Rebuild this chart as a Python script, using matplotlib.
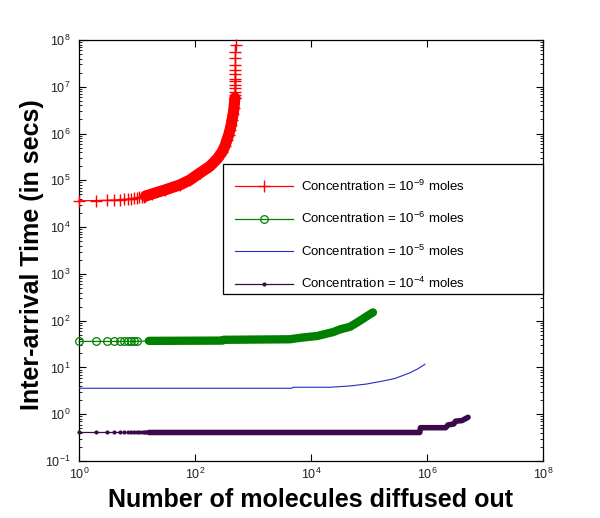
import matplotlib
matplotlib.use('Agg')
import matplotlib.pyplot as plt
from matplotlib.patches import Rectangle

plt.rcParams['font.family'] = ['Liberation Sans', 'DejaVu Sans']
plt.rcParams['mathtext.fontset'] = 'custom'
plt.rcParams['mathtext.rm'] = 'Liberation Sans'
plt.rcParams['mathtext.it'] = 'Liberation Sans:italic'
plt.rcParams['mathtext.bf'] = 'Liberation Sans:bold'

# ---------------- data ----------------
labels = ['Concentration = $10^{-9}$ moles',
          'Concentration = $10^{-6}$ moles',
          'Concentration = $10^{-5}$ moles',
          'Concentration = $10^{-4}$ moles']

# 1e-9 moles : sparse early points, dense band, sparse final points
red_x_early = [1, 2, 3, 4, 5, 6, 7, 8, 9, 10, 11, 12, 13, 14]
red_y_early = [3.65e4, 3.7e4, 3.75e4, 3.8e4, 3.85e4, 3.9e4, 3.95e4, 4.0e4,
               4.1e4, 4.2e4, 4.3e4, 4.4e4, 4.5e4, 4.6e4]
red_x_band = [14, 18, 30, 55, 82, 122, 181, 240, 292, 330, 356, 380, 401,
              420, 435, 455, 470, 488]
red_y_band = [4.6e4, 5.1e4, 6.2e4, 8.0e4, 1.02e5, 1.44e5, 2.0e5, 2.86e5,
              4.0e5, 5.5e5, 7.3e5, 9.3e5, 1.19e6, 1.5e6, 1.95e6, 2.6e6,
              3.5e6, 5.8e6]
red_x_late = [488, 489, 490, 491, 492, 493, 494, 495, 496, 497, 498, 499, 500]
red_y_late = [5.8e6, 6.7e6, 7.9e6, 9.3e6, 1.09e7, 1.3e7, 1.5e7, 1.85e7,
              2.3e7, 2.9e7, 4.1e7, 5.6e7, 7.8e7]

# 1e-6 moles
green_x_early = [1, 2, 3, 4, 5, 6, 7, 8, 9, 10]
green_y_early = [36, 36, 36, 36, 36, 36, 36, 36, 36, 36]
green_x_band = [16, 300, 310, 4300, 6.5e3, 1.27e4, 2.4e4, 3.16e4, 4.7e4,
                6.2e4, 7.9e4, 9.6e4, 1.17e5]
green_y_band = [37, 37.5, 39, 40, 43, 47, 57, 65, 74, 91, 110, 129, 150]

# 1e-5 moles
blue_x = [1, 4.7e3, 4.9e3, 2.13e4, 4.7e4, 9.2e4, 1.74e5, 2.8e5, 5.1e5,
          7.0e5, 9.2e5]
blue_y = [3.59, 3.59, 3.77, 3.77, 4.02, 4.43, 5.13, 5.8, 7.7, 9.4, 11.7]

# 1e-4 moles
purple_x_early = [1, 2, 3, 4, 5, 6, 7, 8, 9, 10, 11, 12, 13, 14, 15, 16]
purple_y_early = [0.407] * 16
purple_x_band = [16, 7.5e5, 7.7e5, 2.1e6, 2.3e6, 2.9e6, 3.1e6, 4.0e6, 5.1e6]
purple_y_band = [0.407, 0.407, 0.515, 0.515, 0.59, 0.62, 0.71, 0.73, 0.86]

xtick_vals = [1, 1e2, 1e4, 1e6, 1e8]
xtick_labels = ['$10^{0}$', '$10^{2}$', '$10^{4}$', '$10^{6}$', '$10^{8}$']
ytick_vals = [1e-1, 1, 1e1, 1e2, 1e3, 1e4, 1e5, 1e6, 1e7, 1e8]
ytick_labels = ['$10^{-1}$', '$10^{0}$', '$10^{1}$', '$10^{2}$', '$10^{3}$',
                '$10^{4}$', '$10^{5}$', '$10^{6}$', '$10^{7}$', '$10^{8}$']

# ---------------- colours ----------------
RED = '#ff0000'
GREEN = '#008000'
BLUE = '#2828c8'
PURPLE = '#3c0a4a'

fig = plt.figure(figsize=(6.0, 5.18), dpi=100)
ax = fig.add_axes([79 / 600, 1 - 461 / 518, 464 / 600, 421 / 518])
ax.set_xscale('log')
ax.set_yscale('log')

# red series
rx = red_x_early + red_x_band + red_x_late
ry = red_y_early + red_y_band + red_y_late
h_red, = ax.plot(rx, ry, color=RED, lw=0.9, marker='+', ms=8, mew=1.0,
                 label=labels[0], clip_on=False, zorder=3)
ax.plot(red_x_band, red_y_band, color=RED, lw=8, solid_capstyle='round',
        solid_joinstyle='round', zorder=3)

# green series
gx = green_x_early + green_x_band
gy = green_y_early + green_y_band
h_green, = ax.plot(gx, gy, color=GREEN, lw=0.9, marker='o', ms=5.5, mfc='none',
                   mew=0.9, markevery=list(range(len(green_x_early))),
                   label=labels[1], clip_on=False, zorder=3)
ax.plot(green_x_band, green_y_band, color=GREEN, lw=6, solid_capstyle='round',
        solid_joinstyle='round', zorder=3)

# blue series
h_blue, = ax.plot(blue_x, blue_y, color=BLUE, lw=0.8, label=labels[2], zorder=3)

# purple series
px_ = purple_x_early + purple_x_band
py_ = purple_y_early + purple_y_band
h_purple, = ax.plot(px_, py_, color=PURPLE, lw=0.9, marker='o', ms=3, mew=0,
                    markevery=list(range(len(purple_x_early))),
                    label=labels[3], clip_on=False, zorder=3)
ax.plot(purple_x_band, purple_y_band, color=PURPLE, lw=4,
        solid_capstyle='round', zorder=3)

ax.set_xlim(1, 1e8)
ax.set_ylim(1e-1, 1e8)

ax.set_xticks(xtick_vals, labels=xtick_labels)
ax.xaxis.set_minor_locator(matplotlib.ticker.NullLocator())
ax.set_yticks(ytick_vals, labels=ytick_labels)
ax.yaxis.set_minor_locator(matplotlib.ticker.LogLocator(base=10, subs=range(2, 10), numticks=20))
ax.yaxis.set_minor_formatter(matplotlib.ticker.NullFormatter())

ax.tick_params(which='both', direction='in', top=True, right=True,
               colors='black', labelcolor='#222222', labelsize=9)
ax.tick_params(which='major', length=5, width=0.8)
ax.tick_params(which='minor', length=2.5, width=0.6)
ax.tick_params(axis='x', pad=4)
ax.tick_params(axis='y', pad=6)
for s in ax.spines.values():
    s.set_linewidth(0.9)

# legend frame drawn separately for exact placement
frame = Rectangle((0.310, (461 - 294) / 421), 0.690, 130 / 421,
                  transform=ax.transAxes, facecolor='white', edgecolor='black',
                  linewidth=0.9, zorder=4.5, clip_on=False)
ax.add_patch(frame)
leg = ax.legend(handles=[h_red, h_green, h_blue, h_purple],
                loc='upper left',
                bbox_to_anchor=(0.310, 0.2, 0.690, (461 - 167) / 421 - 0.2),
                mode='expand', fontsize=9.5, numpoints=1,
                handlelength=4.4, handletextpad=0.6, borderpad=0.9,
                labelspacing=1.3, frameon=False, borderaxespad=0)
leg.set_zorder(5)

fig.text(311 / 600, 1 - 500 / 518, 'Number of molecules diffused out',
         ha='center', va='center', fontsize=18, fontweight='bold')
fig.text(32 / 600, 1 - 255 / 518, 'Inter-arrival Time (in secs)',
         ha='center', va='center', rotation=90, fontsize=18, fontweight='bold')

fig.savefig('out.png', dpi=100)
